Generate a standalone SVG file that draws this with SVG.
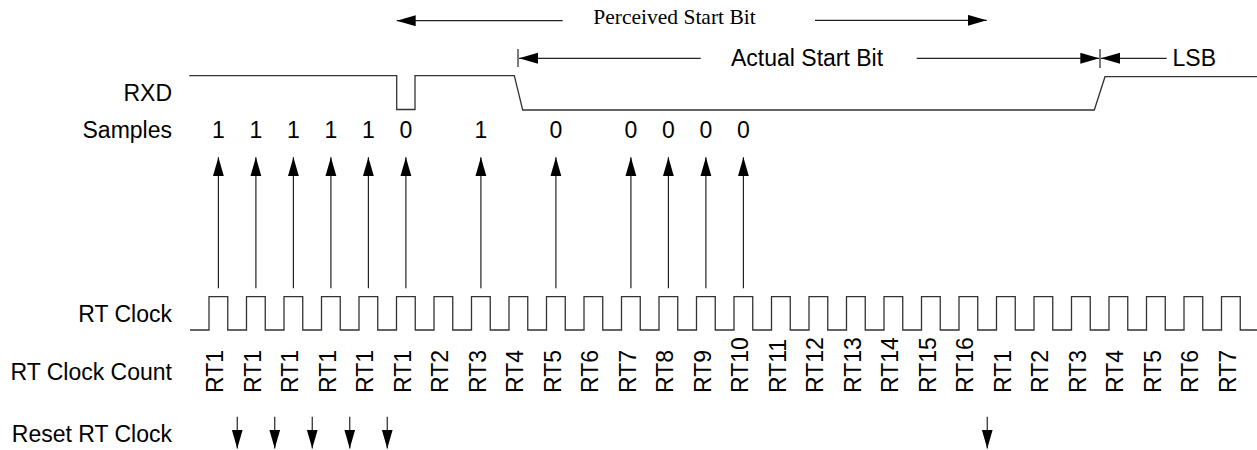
<svg xmlns="http://www.w3.org/2000/svg" width="1257" height="450" viewBox="0 0 1257 450">
<style>
.lbl{font-family:"Liberation Sans",Arial,sans-serif;font-size:23px;fill:#000}
.end{text-anchor:end}
.mid{text-anchor:middle}
.serif{font-family:"Liberation Serif","Times New Roman",serif;font-size:21.5px;fill:#000}
.wave{fill:none;stroke:#333;stroke-width:1.3}
.ln{fill:none;stroke:#222;stroke-width:1.2}
</style>
<defs>
<marker id="ah" markerUnits="userSpaceOnUse" markerWidth="20" markerHeight="12" refX="19" refY="5.5" orient="auto" viewBox="0 0 20 12">
<path d="M0,0 L19,5.5 L0,11 z" fill="#000"/>
</marker>
</defs>
<rect width="1257" height="450" fill="#fff"/>

<g id="row-labels">
<text class="lbl end" x="172" y="100.7">RXD</text>
<text class="lbl end" x="172" y="137.5">Samples</text>
<text class="lbl end" x="172" y="321.7">RT Clock</text>
<text class="lbl end" x="172" y="380">RT Clock Count</text>
<text class="lbl end" x="172" y="441.7">Reset RT Clock</text>
</g>

<g id="perceived-start-bit">
<text class="serif" x="593.3" y="24">Perceived Start Bit</text>
</g>
<g id="actual-start-bit">
<text class="lbl" x="731" y="65.5">Actual Start Bit</text>
<line class="ln" x1="518" y1="49" x2="518" y2="67"/>
</g>
<g id="lsb">
<text class="lbl" x="1172.5" y="66">LSB</text>
<line class="ln" x1="1100" y1="49" x2="1100" y2="68"/>
</g>

<g id="rxd">
<path class="wave" d="M189.3,75.7 H396.7 V109.5 H415 V75.7 H514.3 L522.7,110 H1094.3 L1105,76.7 H1257"/>
</g>

<g id="rt-clock">
<path class="wave" d="M190,330 H209 V296.7 H227.75 V330 H246.5 V296.7 H265.25 V330 H284 V296.7 H302.75 V330 H321.5 V296.7 H340.25 V330 H359 V296.7 H377.75 V330 H396.5 V296.7 H415.25 V330 H434 V296.7 H452.75 V330 H471.5 V296.7 H490.25 V330 H509 V296.7 H527.75 V330 H546.5 V296.7 H565.25 V330 H584 V296.7 H602.75 V330 H621.5 V296.7 H640.25 V330 H659 V296.7 H677.75 V330 H696.5 V296.7 H715.25 V330 H734 V296.7 H752.75 V330 H771.5 V296.7 H790.25 V330 H809 V296.7 H827.75 V330 H846.5 V296.7 H865.25 V330 H884 V296.7 H902.75 V330 H921.5 V296.7 H940.25 V330 H959 V296.7 H977.75 V330 H996.5 V296.7 H1015.25 V330 H1034 V296.7 H1052.75 V330 H1071.5 V296.7 H1090.25 V330 H1109 V296.7 H1127.75 V330 H1146.5 V296.7 H1165.25 V330 H1184 V296.7 H1202.75 V330 H1221.5 V296.7 H1240.25 V330 H1257"/>
</g>

<g id="samples">
<text class="lbl mid" x="218.4" y="138.3">1</text>
<text class="lbl mid" x="255.9" y="138.3">1</text>
<text class="lbl mid" x="293.4" y="138.3">1</text>
<text class="lbl mid" x="330.9" y="138.3">1</text>
<text class="lbl mid" x="368.4" y="138.3">1</text>
<text class="lbl mid" x="405.9" y="138.3">0</text>
<text class="lbl mid" x="480.9" y="138.3">1</text>
<text class="lbl mid" x="555.9" y="138.3">0</text>
<text class="lbl mid" x="630.9" y="138.3">0</text>
<text class="lbl mid" x="668.4" y="138.3">0</text>
<text class="lbl mid" x="705.9" y="138.3">0</text>
<text class="lbl mid" x="743.4" y="138.3">0</text>
</g>

<g id="rt-clock-count">
<text class="lbl" transform="translate(223.4,393) rotate(-90)">RT1</text>
<text class="lbl" transform="translate(260.9,393) rotate(-90)">RT1</text>
<text class="lbl" transform="translate(298.4,393) rotate(-90)">RT1</text>
<text class="lbl" transform="translate(335.9,393) rotate(-90)">RT1</text>
<text class="lbl" transform="translate(373.4,393) rotate(-90)">RT1</text>
<text class="lbl" transform="translate(410.9,393) rotate(-90)">RT1</text>
<text class="lbl" transform="translate(448.4,393) rotate(-90)">RT2</text>
<text class="lbl" transform="translate(485.9,393) rotate(-90)">RT3</text>
<text class="lbl" transform="translate(523.4,393) rotate(-90)">RT4</text>
<text class="lbl" transform="translate(560.9,393) rotate(-90)">RT5</text>
<text class="lbl" transform="translate(598.4,393) rotate(-90)">RT6</text>
<text class="lbl" transform="translate(635.9,393) rotate(-90)">RT7</text>
<text class="lbl" transform="translate(673.4,393) rotate(-90)">RT8</text>
<text class="lbl" transform="translate(710.9,393) rotate(-90)">RT9</text>
<text class="lbl" transform="translate(748.4,393) rotate(-90)">RT10</text>
<text class="lbl" transform="translate(785.9,393) rotate(-90)">RT11</text>
<text class="lbl" transform="translate(823.4,393) rotate(-90)">RT12</text>
<text class="lbl" transform="translate(860.9,393) rotate(-90)">RT13</text>
<text class="lbl" transform="translate(898.4,393) rotate(-90)">RT14</text>
<text class="lbl" transform="translate(935.9,393) rotate(-90)">RT15</text>
<text class="lbl" transform="translate(973.4,393) rotate(-90)">RT16</text>
<text class="lbl" transform="translate(1010.9,393) rotate(-90)">RT1</text>
<text class="lbl" transform="translate(1048.4,393) rotate(-90)">RT2</text>
<text class="lbl" transform="translate(1085.9,393) rotate(-90)">RT3</text>
<text class="lbl" transform="translate(1123.4,393) rotate(-90)">RT4</text>
<text class="lbl" transform="translate(1160.9,393) rotate(-90)">RT5</text>
<text class="lbl" transform="translate(1198.4,393) rotate(-90)">RT6</text>
<text class="lbl" transform="translate(1235.9,393) rotate(-90)">RT7</text>
</g>

<g id="connectors">
<line class="ln" x1="562.7" y1="20.7" x2="396.7" y2="20.7" marker-end="url(#ah)"/>
<line class="ln" x1="815" y1="20.3" x2="986.7" y2="20.3" marker-end="url(#ah)"/>
<line class="ln" x1="700.7" y1="58.3" x2="519" y2="58.3" marker-end="url(#ah)"/>
<line class="ln" x1="916.7" y1="58.3" x2="1099.3" y2="58.3" marker-end="url(#ah)"/>
<line class="ln" x1="1166.7" y1="58.3" x2="1101" y2="58.3" marker-end="url(#ah)"/>

<line class="ln" x1="218.4" y1="288.3" x2="218.4" y2="157.3" marker-end="url(#ah)"/>
<line class="ln" x1="255.9" y1="288.3" x2="255.9" y2="157.3" marker-end="url(#ah)"/>
<line class="ln" x1="293.4" y1="288.3" x2="293.4" y2="157.3" marker-end="url(#ah)"/>
<line class="ln" x1="330.9" y1="288.3" x2="330.9" y2="157.3" marker-end="url(#ah)"/>
<line class="ln" x1="368.4" y1="288.3" x2="368.4" y2="157.3" marker-end="url(#ah)"/>
<line class="ln" x1="405.9" y1="288.3" x2="405.9" y2="157.3" marker-end="url(#ah)"/>
<line class="ln" x1="480.9" y1="288.3" x2="480.9" y2="157.3" marker-end="url(#ah)"/>
<line class="ln" x1="555.9" y1="288.3" x2="555.9" y2="157.3" marker-end="url(#ah)"/>
<line class="ln" x1="630.9" y1="288.3" x2="630.9" y2="157.3" marker-end="url(#ah)"/>
<line class="ln" x1="668.4" y1="288.3" x2="668.4" y2="157.3" marker-end="url(#ah)"/>
<line class="ln" x1="705.9" y1="288.3" x2="705.9" y2="157.3" marker-end="url(#ah)"/>
<line class="ln" x1="743.4" y1="288.3" x2="743.4" y2="157.3" marker-end="url(#ah)"/>

<line class="ln" x1="237.25" y1="416.7" x2="237.25" y2="448.5" marker-end="url(#ah)"/>
<line class="ln" x1="274.75" y1="416.7" x2="274.75" y2="448.5" marker-end="url(#ah)"/>
<line class="ln" x1="312.25" y1="416.7" x2="312.25" y2="448.5" marker-end="url(#ah)"/>
<line class="ln" x1="349.75" y1="416.7" x2="349.75" y2="448.5" marker-end="url(#ah)"/>
<line class="ln" x1="387.25" y1="416.7" x2="387.25" y2="448.5" marker-end="url(#ah)"/>
<line class="ln" x1="987.25" y1="416.7" x2="987.25" y2="448.5" marker-end="url(#ah)"/>
</g>
</svg>
